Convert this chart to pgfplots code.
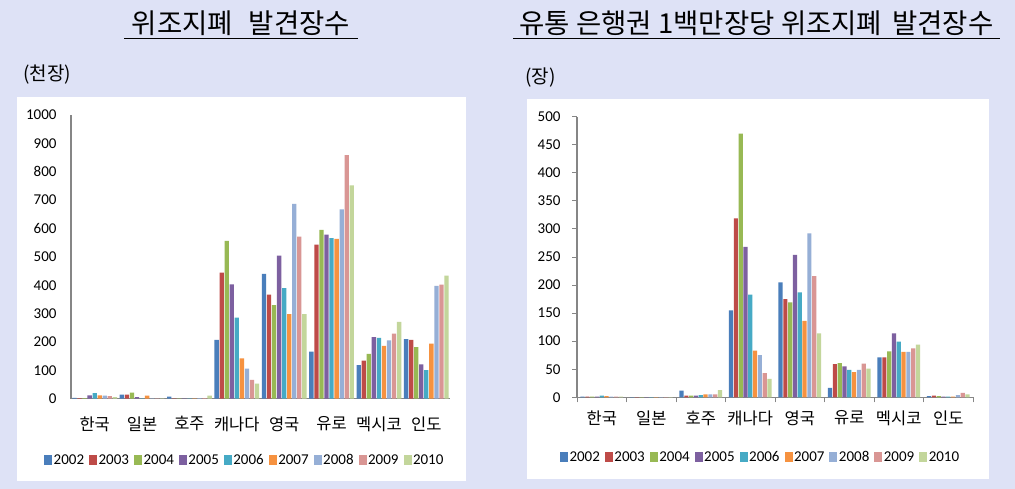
\documentclass[border=0pt]{standalone}
\usepackage{fontspec}
\setmainfont{Carlito}
\newfontfamily\kr{Noto Sans CJK KR}
\usepackage{pgfplots}
\usepackage{pgfplotstable}
\pgfplotsset{compat=1.18}

\definecolor{bgc}{RGB}{222,226,246}
\definecolor{axgray}{RGB}{134,134,134}
\definecolor{c02}{RGB}{74,126,187}
\definecolor{c03}{RGB}{190,75,72}
\definecolor{c04}{RGB}{152,185,84}
\definecolor{c05}{RGB}{125,96,160}
\definecolor{c06}{RGB}{70,170,197}
\definecolor{c07}{RGB}{246,146,64}
\definecolor{c08}{RGB}{150,175,214}
\definecolor{c09}{RGB}{217,150,148}
\definecolor{c10}{RGB}{195,214,155}

% counterfeit notes found (thousand)
\pgfplotstableread{
x y02 y03 y04 y05 y06 y07 y08 y09 y10
0 3   2   2   12  20  12  11  9   6
1 14  14  21  6   1   11  1   1   1
2 7   1   1   1   1   1   2   2   11
3 207 444 556 403 286 142 106 66  53
4 440 367 330 504 390 298 687 571 298
5 166 543 595 578 566 563 667 859 752
6 118 134 158 217 214 186 206 229 271
7 210 207 182 121 101 194 398 402 434
}\leftdata

% per million notes in circulation
\pgfplotstableread{
x y02 y03 y04 y05 y06 y07 y08 y09 y10
0 1   1   1   1   3   2   1   1   1
1 0.3 0.3 0.3 0.3 0.3 0.3 0.3 0.3 0.3
2 12  3   3   3   4   5   5   5   13
3 155 319 470 268 183 83  75  43  33
4 205 175 169 254 187 136 292 216 114
5 17  59  61  55  49  45  49  60  51
6 71  71  82  114 99  81  81  87  94
7 2   3   2   1   1   1   4   8   5
}\rightdata

\pgfplotsset{
  sqlegend/.style={legend image code/.code={\fill[##1] (0pt,-5pt) rectangle (8pt,5pt);}},
  chartbase/.style={
    scale only axis,
    anchor=south west,
    xmin=-0.5, xmax=7.5,
    ymin=0,
    xtick={0,...,7},
    xticklabels={{\kr 한국},{\kr 일본},{\kr 호주},{\kr 캐나다},{\kr 영국},{\kr 유로},{\kr 멕시코},{\kr 인도}},
    axis x line*=bottom, axis y line*=left,
    axis line style={draw=axgray, line width=1.5pt, -},
    xtick style={draw=none},
    yticklabel style={font=\fontsize{15}{15}\selectfont},
    xticklabel style={font=\fontsize{16.5}{16.5}\selectfont},
    /pgf/number format/assume math mode=true,
    /pgf/number format/1000 sep={},
    legend columns=9,
    legend style={draw=none, fill=none, font=\fontsize{15}{15}\selectfont,
      nodes={inner xsep=1.5pt},
      /tikz/every even column/.append style={column sep=3.5pt}},
  }
}

\begin{document}
\begin{tikzpicture}
\fill[bgc] (0pt,0pt) rectangle (1015pt,-489pt);
\fill[white] (17pt,-97pt) rectangle (466pt,-481pt);
\fill[white] (527pt,-99pt) rectangle (989pt,-479pt);

% titles
\node[anchor=base] at (241pt,-34pt) {\fontsize{27.5}{27.5}\selectfont\kr 위조지폐\hspace{16pt}발견장수};
\draw[line width=1pt] (124pt,-38.5pt) -- (358pt,-38.5pt);
\node[anchor=base] at (756.5pt,-34pt) {\fontsize{27.5}{27.5}\selectfont\kr 유통 은행권 1백만장당 위조지폐\hspace{10pt}발견장수};
\draw[line width=1pt] (513pt,-38.5pt) -- (1000pt,-38.5pt);
\node[anchor=west] at (20pt,-75pt) {\fontsize{19}{19}\selectfont\kr (천장)};
\node[anchor=west] at (522pt,-78pt) {\fontsize{19}{19}\selectfont\kr (장)};

\begin{axis}[chartbase,
  at={(71pt,-398.7pt)},
  width=379pt, height=283.7pt,
  ymax=1000, ytick={0,100,...,1000},
  ytick style={draw=none},
  yticklabel style={xshift=-11pt},
  xticklabel style={yshift=-10pt},
  ybar=0.75pt, bar width=4.3pt,
  every axis plot/.append style={sqlegend},
  legend style={at={(0.458,-0.216)}, anchor=center},
]
\addplot[fill=c02, draw=none] table[x=x, y=y02] {\leftdata};
\addplot[fill=c03, draw=none] table[x=x, y=y03] {\leftdata};
\addplot[fill=c04, draw=none] table[x=x, y=y04] {\leftdata};
\addplot[fill=c05, draw=none] table[x=x, y=y05] {\leftdata};
\addplot[fill=c06, draw=none] table[x=x, y=y06] {\leftdata};
\addplot[fill=c07, draw=none] table[x=x, y=y07] {\leftdata};
\addplot[fill=c08, draw=none] table[x=x, y=y08] {\leftdata};
\addplot[fill=c09, draw=none] table[x=x, y=y09] {\leftdata};
\addplot[fill=c10, draw=none] table[x=x, y=y10] {\leftdata};
\legend{2002,2003,2004,2005,2006,2007,2008,2009,2010}
\end{axis}

\begin{axis}[chartbase,
  at={(577pt,-397.3pt)},
  width=396pt, height=280.6pt,
  ymax=500, ytick={0,50,...,500},
  tick align=outside, major tick length=5pt,
  ytick style={draw=axgray, line width=1pt},
  extra x ticks={-0.5,0.5,...,7.5},
  extra x tick labels={},
  extra x tick style={xtick style={draw=axgray, line width=1pt}},
  yticklabel style={xshift=-8pt},
  xticklabel style={yshift=-5pt},
  ybar=0.6pt, bar width=4.2pt,
  every axis plot/.append style={sqlegend},
  legend style={at={(0.463,-0.213)}, anchor=center},
]
\addplot[fill=c02, draw=none] table[x=x, y=y02] {\rightdata};
\addplot[fill=c03, draw=none] table[x=x, y=y03] {\rightdata};
\addplot[fill=c04, draw=none] table[x=x, y=y04] {\rightdata};
\addplot[fill=c05, draw=none] table[x=x, y=y05] {\rightdata};
\addplot[fill=c06, draw=none] table[x=x, y=y06] {\rightdata};
\addplot[fill=c07, draw=none] table[x=x, y=y07] {\rightdata};
\addplot[fill=c08, draw=none] table[x=x, y=y08] {\rightdata};
\addplot[fill=c09, draw=none] table[x=x, y=y09] {\rightdata};
\addplot[fill=c10, draw=none] table[x=x, y=y10] {\rightdata};
\legend{2002,2003,2004,2005,2006,2007,2008,2009,2010}
\end{axis}

\pgfresetboundingbox
\useasboundingbox (0pt,0pt) rectangle (1015pt,-489pt);
\end{tikzpicture}
\end{document}
